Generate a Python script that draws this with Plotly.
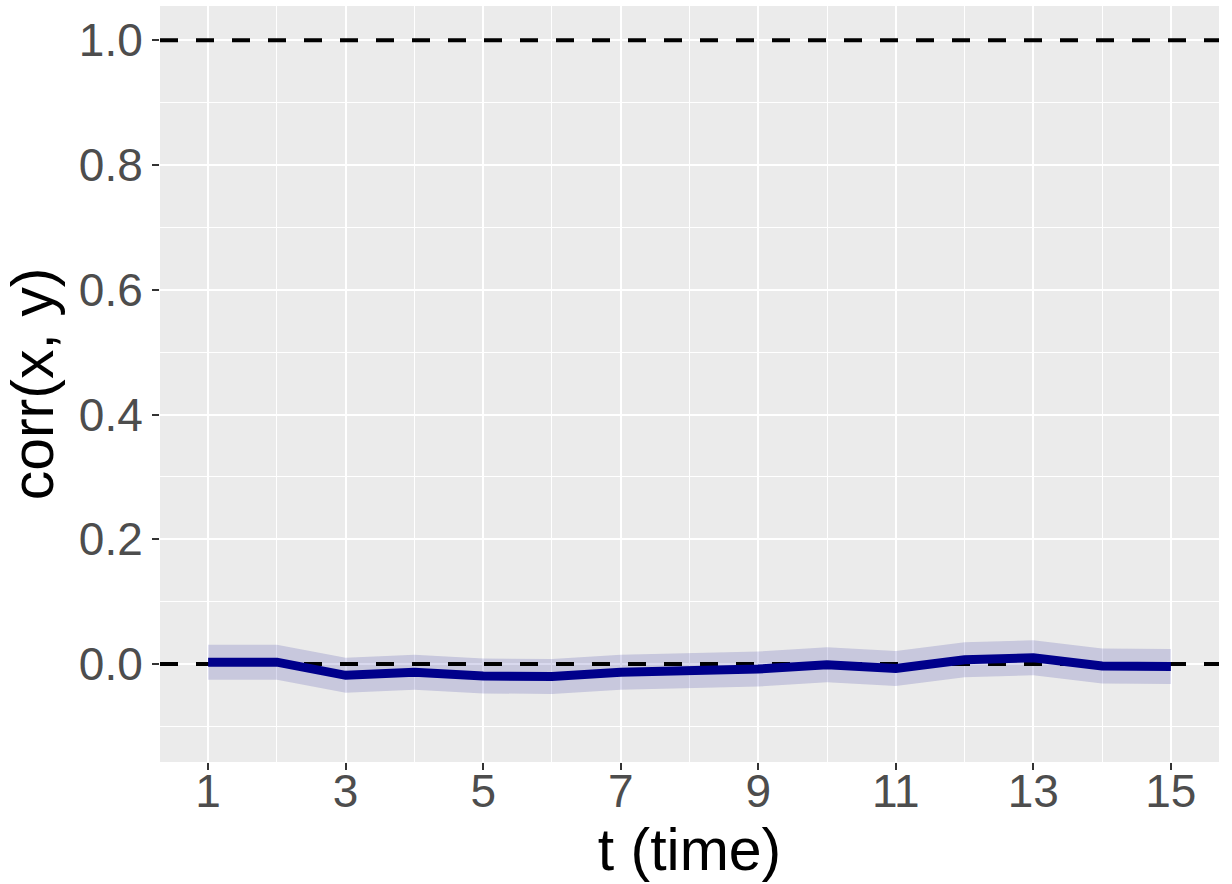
import plotly.graph_objects as go

t = list(range(1, 16))
corr = [0.003, 0.003, -0.018, -0.013, -0.019, -0.020, -0.013, -0.011, -0.008, -0.001, -0.007, 0.007, 0.010, -0.003, -0.004]
upper = [0.031, 0.031, 0.010, 0.015, 0.009, 0.008, 0.015, 0.017, 0.020, 0.027, 0.021, 0.035, 0.038, 0.025, 0.024]
lower = [-0.025, -0.025, -0.046, -0.041, -0.047, -0.048, -0.041, -0.039, -0.036, -0.029, -0.035, -0.021, -0.018, -0.031, -0.032]
ref_levels = [0.0, 1.0]
x_ticks = [1, 3, 5, 7, 9, 11, 13, 15]
y_ticks = [0.0, 0.2, 0.4, 0.6, 0.8, 1.0]
y_tick_labels = ["0.0", "0.2", "0.4", "0.6", "0.8", "1.0"]

X_RANGE = [0.3, 15.7]
Y_RANGE = [-0.157, 1.055]

fig = go.Figure()

fig.add_trace(go.Scatter(
    x=t + t[::-1], y=upper + lower[::-1],
    fill="toself", fillcolor="rgba(0,0,139,0.15)",
    line=dict(width=0), mode="lines", hoverinfo="skip", showlegend=False))

for lv in ref_levels:
    fig.add_trace(go.Scatter(
        x=X_RANGE, y=[lv, lv], mode="lines",
        line=dict(color="black", width=4, dash="18px,18px"),
        showlegend=False, hoverinfo="skip"))

fig.add_trace(go.Scatter(
    x=t, y=corr, mode="lines",
    line=dict(color="#00008B", width=9),
    showlegend=False))

font_fam = "Liberation Sans, Arial, sans-serif"

fig.update_layout(
    width=1232, height=884,
    margin=dict(l=160, r=13, t=6, b=122),
    paper_bgcolor="white", plot_bgcolor="#EBEBEB",
    font=dict(family=font_fam),
    xaxis=dict(
        range=X_RANGE, tickvals=x_ticks, ticktext=[str(v) for v in x_ticks],
        showgrid=True, gridcolor="white", gridwidth=2,
        minor=dict(tickvals=[2, 4, 6, 8, 10, 12, 14], showgrid=True, gridcolor="white", gridwidth=1, ticks=""),
        ticks="outside", ticklen=7, tickwidth=2, tickcolor="#333333",
        tickfont=dict(size=46, color="#4D4D4D", family=font_fam),
        ticklabelstandoff=-18,
        zeroline=False, showline=False, automargin=False,
        title=dict(text="t (time)", font=dict(size=59, color="black", family=font_fam), standoff=0),
    ),
    yaxis=dict(
        range=Y_RANGE, tickvals=y_ticks, ticktext=y_tick_labels,
        showgrid=True, gridcolor="white", gridwidth=2,
        minor=dict(tickvals=[-0.1, 0.1, 0.3, 0.5, 0.7, 0.9], showgrid=True, gridcolor="white", gridwidth=1, ticks=""),
        ticks="outside", ticklen=7, tickwidth=2, tickcolor="#333333",
        tickfont=dict(size=46, color="#4D4D4D", family=font_fam),
        zeroline=False, showline=False, automargin=False,
        title=dict(text="corr(x, y)", font=dict(size=59, color="black", family=font_fam), standoff=10),
    ),
)

fig.write_html("out.html")
